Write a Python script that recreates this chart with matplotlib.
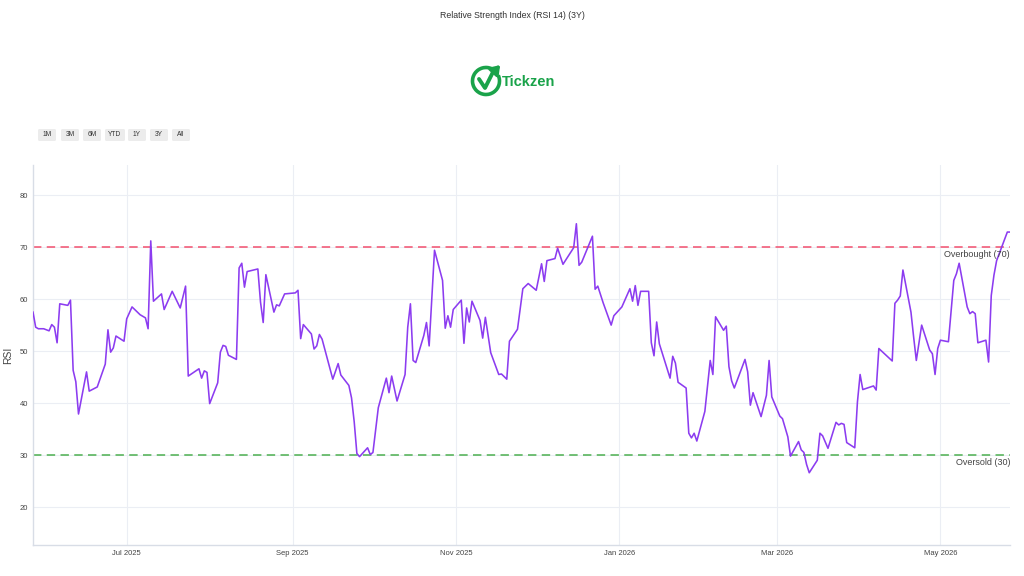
import matplotlib
matplotlib.use("Agg")
import matplotlib.pyplot as plt
import matplotlib.dates as mdates
from matplotlib.patches import Arc, FancyBboxPatch, FancyArrowPatch
import pandas as pd

plt.rcParams['font.family'] = ['Liberation Sans', 'DejaVu Sans']

title = "Relative Strength Index (RSI 14) (3Y)"
overbought = 70
oversold = 30
y_ticks = [20, 30, 40, 50, 60, 70, 80]
range_buttons = ["1M", "3M", "6M", "YTD", "1Y", "3Y", "All"]

dates = [
    "2025-05-27", "2025-05-28", "2025-05-29", "2025-05-31", "2025-06-02", "2025-06-03",
    "2025-06-04", "2025-06-05", "2025-06-06", "2025-06-09", "2025-06-10", "2025-06-11",
    "2025-06-12", "2025-06-13", "2025-06-16", "2025-06-17", "2025-06-20", "2025-06-23",
    "2025-06-24", "2025-06-25", "2025-06-26", "2025-06-27", "2025-06-30", "2025-07-01",
    "2025-07-03", "2025-07-06", "2025-07-08", "2025-07-09", "2025-07-10", "2025-07-11",
    "2025-07-14", "2025-07-15", "2025-07-18", "2025-07-21", "2025-07-23", "2025-07-24",
    "2025-07-28", "2025-07-29", "2025-07-30", "2025-07-31", "2025-08-01", "2025-08-04",
    "2025-08-05", "2025-08-06", "2025-08-07", "2025-08-08", "2025-08-11", "2025-08-12",
    "2025-08-13", "2025-08-14", "2025-08-15", "2025-08-19", "2025-08-20", "2025-08-21",
    "2025-08-22", "2025-08-25", "2025-08-26", "2025-08-27", "2025-08-29", "2025-09-02",
    "2025-09-03", "2025-09-04", "2025-09-05", "2025-09-08", "2025-09-09", "2025-09-10",
    "2025-09-11", "2025-09-12", "2025-09-16", "2025-09-18", "2025-09-19", "2025-09-22",
    "2025-09-23", "2025-09-24", "2025-09-25", "2025-09-26", "2025-09-29", "2025-09-30",
    "2025-10-01", "2025-10-03", "2025-10-06", "2025-10-07", "2025-10-08", "2025-10-10",
    "2025-10-13", "2025-10-14", "2025-10-15", "2025-10-16", "2025-10-17", "2025-10-20",
    "2025-10-21", "2025-10-22", "2025-10-24", "2025-10-27", "2025-10-28", "2025-10-29",
    "2025-10-30", "2025-10-31", "2025-11-03", "2025-11-04", "2025-11-05", "2025-11-06",
    "2025-11-07", "2025-11-10", "2025-11-11", "2025-11-12", "2025-11-14", "2025-11-17",
    "2025-11-18", "2025-11-20", "2025-11-21", "2025-11-24", "2025-11-26", "2025-11-28",
    "2025-12-01", "2025-12-03", "2025-12-04", "2025-12-05", "2025-12-08", "2025-12-09",
    "2025-12-11", "2025-12-15", "2025-12-16", "2025-12-17", "2025-12-18", "2025-12-22",
    "2025-12-23", "2025-12-24", "2025-12-26", "2025-12-29", "2025-12-30", "2026-01-02",
    "2026-01-05", "2026-01-06", "2026-01-07", "2026-01-08", "2026-01-09", "2026-01-12",
    "2026-01-13", "2026-01-14", "2026-01-15", "2026-01-16", "2026-01-20", "2026-01-21",
    "2026-01-22", "2026-01-23", "2026-01-26", "2026-01-27", "2026-01-28", "2026-01-29",
    "2026-01-30", "2026-02-02", "2026-02-04", "2026-02-05", "2026-02-06", "2026-02-09",
    "2026-02-10", "2026-02-11", "2026-02-12", "2026-02-13", "2026-02-17", "2026-02-18",
    "2026-02-19", "2026-02-20", "2026-02-23", "2026-02-25", "2026-02-26", "2026-02-27",
    "2026-03-02", "2026-03-03", "2026-03-05", "2026-03-06", "2026-03-09", "2026-03-10",
    "2026-03-11", "2026-03-12", "2026-03-13", "2026-03-16", "2026-03-17", "2026-03-18",
    "2026-03-20", "2026-03-23", "2026-03-24", "2026-03-25", "2026-03-26", "2026-03-27",
    "2026-03-30", "2026-03-31", "2026-04-01", "2026-04-02", "2026-04-06", "2026-04-07",
    "2026-04-08", "2026-04-13", "2026-04-14", "2026-04-15", "2026-04-16", "2026-04-17",
    "2026-04-20", "2026-04-21", "2026-04-22", "2026-04-24", "2026-04-27", "2026-04-28",
    "2026-04-29", "2026-04-30", "2026-05-01", "2026-05-04", "2026-05-06", "2026-05-07",
    "2026-05-08", "2026-05-11", "2026-05-12", "2026-05-13", "2026-05-14", "2026-05-15",
    "2026-05-18", "2026-05-19", "2026-05-20", "2026-05-21", "2026-05-22", "2026-05-26",
    "2026-05-27",
]

rsi = [
    57.5, 54.6, 54.3, 54.3, 53.9, 55.1,
    54.6, 51.6, 59.1, 58.8, 59.8, 46.3,
    44.1, 37.9, 46.0, 42.3, 43.1, 47.5,
    54.1, 49.8, 50.6, 52.9, 51.9, 56.2,
    58.5, 57.0, 56.4, 54.3, 71.2, 59.6,
    61.0, 58.0, 61.5, 58.3, 62.5, 45.2,
    46.6, 44.8, 46.2, 45.9, 39.9, 43.9,
    49.8, 51.1, 50.9, 49.2, 48.4, 66.0,
    66.9, 62.3, 65.3, 65.8, 59.4, 55.5,
    64.7, 57.5, 58.9, 58.7, 61.0, 61.2,
    61.7, 52.4, 55.1, 53.3, 50.4, 51.0,
    53.2, 52.3, 44.6, 47.6, 45.4, 43.4,
    41.0, 36.4, 30.3, 29.7, 31.4, 30.1,
    30.5, 39.1, 44.8, 42.0, 45.2, 40.4,
    45.5, 54.6, 59.1, 48.2, 47.8, 53.0,
    55.5, 51.0, 69.4, 63.6, 54.4, 56.8,
    54.6, 58.0, 59.8, 51.5, 58.3, 55.6,
    59.6, 55.9, 52.5, 56.5, 49.7, 45.5,
    45.6, 44.6, 51.9, 54.2, 62.0, 63.0,
    61.7, 66.8, 63.4, 67.4, 67.8, 69.8,
    66.7, 69.9, 74.5, 66.5, 67.1, 72.1,
    61.9, 62.5, 59.3, 55.0, 56.8, 58.5,
    62.0, 59.6, 62.6, 58.8, 61.5, 61.5,
    51.6, 49.1, 55.6, 51.4, 44.8, 49.0,
    47.7, 44.0, 42.9, 34.2, 33.3, 34.2,
    32.7, 38.4, 48.2, 45.5, 56.6, 54.0,
    54.8, 47.0, 44.3, 42.9, 48.4, 46.0,
    39.6, 42.0, 37.4, 41.5, 48.2, 41.2,
    37.5, 37.0, 33.5, 29.8, 32.6, 31.0,
    30.5, 28.2, 26.6, 29.0, 34.2, 33.7,
    31.3, 36.3, 35.8, 36.1, 35.9, 32.4,
    31.4, 40.2, 45.5, 42.6, 43.3, 42.5,
    50.5, 48.1, 59.2, 59.8, 60.6, 65.6,
    57.5, 52.7, 48.2, 55.0, 50.2, 49.5,
    45.5, 50.5, 52.1, 51.8, 63.6, 64.9,
    66.9, 58.5, 57.2, 57.6, 57.2, 51.6,
    52.1, 47.9, 60.7, 64.6, 67.4, 72.9,
    72.9,
]

x = pd.to_datetime(dates)

W, H = 1024, 576
fig = plt.figure(figsize=(W / 100, H / 100), dpi=100)
fig.patch.set_facecolor("white")

ax = fig.add_axes([33 / W, 1 - 545 / H, (1010 - 33) / W, (545 - 165) / H])
ax.set_facecolor("white")

grid_c = "#ebeef4"
ax.grid(True, color=grid_c, linewidth=0.8)
ax.set_axisbelow(True)

ax.plot(x, rsi, color="#8c3cf0", linewidth=1.15, solid_joinstyle="round", zorder=3)

ax.axhline(overbought, color="#f2506e", linewidth=1.1, dashes=(5.5, 3.5), zorder=2)
ax.axhline(oversold, color="#4caf50", linewidth=1.1, dashes=(5.5, 3.5), zorder=2)

ax.set_xlim(x[0], x[-1])
ax.set_ylim(12.7, 85.8)
ax.set_yticks(y_ticks)
ax.xaxis.set_major_locator(mdates.MonthLocator(bymonth=[1, 3, 5, 7, 9, 11]))
ax.xaxis.set_major_formatter(mdates.DateFormatter("%b %Y"))

tick_c = "#444444"
ax.tick_params(axis="both", length=0, labelsize=5.5, labelcolor=tick_c, pad=3.5)
for s in ["top", "right"]:
    ax.spines[s].set_visible(False)
for s in ["left", "bottom"]:
    ax.spines[s].set_color("#d8dde6")
    ax.spines[s].set_linewidth(1.0)

ax.set_ylabel("RSI", fontsize=7.5, color=tick_c)
ax.yaxis.set_label_coords(-20 / 977, 0.5)

ax.text(1.0, overbought - 0.6, "Overbought (70)", transform=ax.get_yaxis_transform(),
        ha="right", va="top", fontsize=6.5, color=tick_c)
ax.text(1.0, oversold - 0.6, "Oversold (30)", transform=ax.get_yaxis_transform(),
        ha="right", va="top", fontsize=6.5, color=tick_c)

fig.text(0.5, 1 - 15 / H, title, ha="center", va="center", fontsize=6.3, color="#333333")

# Logo
lax = fig.add_axes([455 / W, 1 - 102 / H, 110 / W, 44 / H])
lax.set_xlim(0, 110)
lax.set_ylim(0, 44)
lax.axis("off")
green = "#1aa34a"
lax.add_patch(Arc((31, 21), 27, 27, theta1=65, theta2=385, color=green, linewidth=2.6))
lax.plot([24, 30, 38], [23, 14, 30], color=green, linewidth=2.8, solid_capstyle="round")
lax.add_patch(FancyArrowPatch((37, 28), (47, 39), arrowstyle="-|>,head_length=5,head_width=3.5",
                              color=green, linewidth=2.4, mutation_scale=1))
lax.text(46.5, 20, "Tickzen", fontsize=10.5, fontweight="bold", color=green, ha="left", va="center")

# Range selector buttons
btn_x = [38, 61, 83, 105, 128, 150, 172]
btn_w = [18, 18, 18, 20, 18, 18, 18]
for lbl, bx, bw in zip(range_buttons, btn_x, btn_w):
    fig.patches.append(FancyBboxPatch((bx / W, 1 - 141 / H), bw / W, 12 / H,
                                      boxstyle="round,pad=0,rounding_size=0.002",
                                      transform=fig.transFigure, facecolor="#ececec",
                                      edgecolor="none"))
    fig.text((bx + bw / 2) / W, 1 - 135 / H, lbl, ha="center", va="center",
             fontsize=4.8, color="#333333")

fig.savefig("out.png", dpi=100, facecolor="white")
